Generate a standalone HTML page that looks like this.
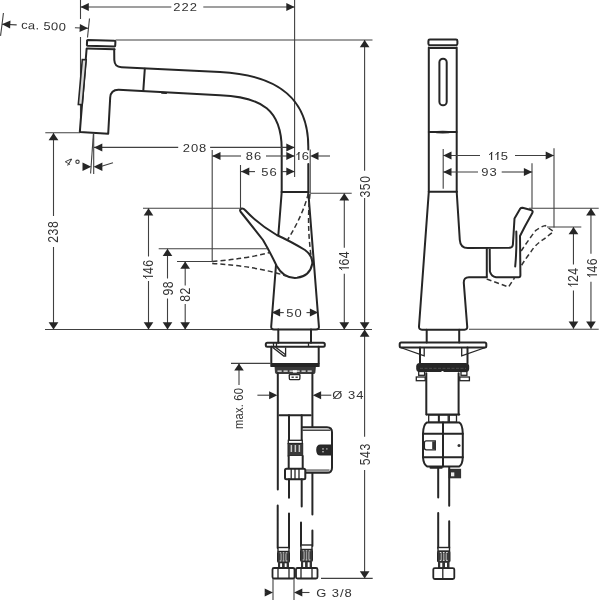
<!DOCTYPE html>
<html><head><meta charset="utf-8"><style>
html,body{margin:0;padding:0;background:#fff;}
svg{display:block;will-change:transform;}
.m{stroke:#262626;stroke-width:2;fill:none;stroke-linejoin:round;stroke-linecap:round;}
.mf{stroke:#262626;stroke-width:2;fill:#fff;stroke-linejoin:round;}
.mf2{stroke:#262626;stroke-width:1.6;fill:#2a2a2a;}
.m1{stroke:#262626;stroke-width:1.3;fill:none;}
.m2{stroke:#262626;stroke-width:1.6;fill:#d8d8d8;}
.d{stroke:#404040;stroke-width:1.1;fill:none;}
.ds{stroke:#333;stroke-width:1.5;fill:none;stroke-dasharray:5 3;}
.dsl{stroke:#333;stroke-width:1.2;fill:none;stroke-dasharray:3 2;}
.a{fill:#262626;}
.fill3{fill:#3a3a3a;stroke:#262626;stroke-width:0.8;}
.t{font-family:"Liberation Sans",sans-serif;fill:#333;letter-spacing:1.4px;}
</style></head><body>
<svg width="600" height="600" viewBox="0 0 600 600">
<rect width="600" height="600" fill="#fff"/>
<line class="d" x1="80.5" y1="0" x2="80.5" y2="19"/>
<line class="d" x1="80.5" y1="37" x2="80.5" y2="132"/>
<line class="d" x1="294.6" y1="0" x2="294.6" y2="177"/>
<line class="d" x1="80.5" y1="7" x2="171.3" y2="7"/>
<line class="d" x1="203.3" y1="7" x2="294.6" y2="7"/>
<polygon class="a" points="80.5,7.0 88.8,3.0 88.8,11.0"/>
<polygon class="a" points="294.6,7.0 286.3,3.0 286.3,11.0"/>
<text class="t" font-size="11.2" style="letter-spacing:0.85px" text-anchor="middle" dominant-baseline="central" transform="translate(185.14,6.90) scale(1.16,1)" x="0.425" y="0">222</text>
<g transform="translate(2,24.2) rotate(2.73)">
<path class="d" d="M0.9,-11.2 Q0.1,0 -0.9,11.8"/>
<line class="d" x1="0" y1="0" x2="14.7" y2="0"/>
<polygon class="a" points="0.0,0.0 8.3,-4.0 8.3,4.0"/>
<line class="d" x1="73" y1="0" x2="86.1" y2="0"/>
<polygon class="a" points="86.1,0.0 77.8,-4.0 77.8,4.0"/>
</g>
<path class="d" d="M89.5,18.5 Q88.5,28 87.5,37.5"/>
<text class="t" font-size="11.2" style="letter-spacing:0.3px" text-anchor="middle" dominant-baseline="central" transform="translate(43.50,26.00) rotate(3) scale(1.16,1)" x="0.15" y="0">ca. 500</text>
<line class="d" x1="115.5" y1="40" x2="372.5" y2="40"/>
<path class="m" d="M87.8,40.1 L114.6,40.8 Q115.4,40.8 115.4,41.6 L115.2,45.8 Q115.2,46.5 114.4,46.5 L87.6,45.8 Q86.9,45.8 86.9,45 L87.1,40.9 Q87.1,40.1 87.8,40.1 Z"/>
<line class="m" x1="86.8" y1="48.5" x2="114.6" y2="49.2"/>
<path class="m" d="M86.6,49 L79.8,132 L108.2,133.8 L110.2,97.5 Q110.8,89.6 118.6,89.7 L220,95.3 C262,97 282,110 281.7,150 L281.7,192"/>
<path class="m" d="M114.2,49.4 L114.3,60 Q114.6,67 121.5,67.3 L220,72 C280,75 308.3,100 308.3,146.7 L308.3,149.5"/>
<path class="m" d="M308.3,164 L308.3,192"/>
<line class="m" x1="144.8" y1="68.8" x2="143.3" y2="90.6"/>
<line class="m" x1="162" y1="92.8" x2="166" y2="93.1"/>
<path class="m2" d="M82.3,59.5 L86.2,59.8 L82.2,104.7 L78.3,104.4 Z"/>
<line class="d" x1="93.7" y1="133.5" x2="93.7" y2="174"/>
<line class="d" x1="93.4" y1="133.5" x2="90.6" y2="173.5"/>
<polygon class="a" points="91.3,166.7 82.5,162.4 82.5,171.0"/>
<polygon class="a" points="93.6,166.7 102.4,162.4 102.4,171.0"/>
<line class="d" x1="101.6" y1="166.2" x2="113" y2="162.8"/>
<text class="t" font-size="11.5" text-anchor="middle" dominant-baseline="central" transform="translate(69.2,161.8) rotate(32)">4</text>
<circle class="d" cx="77.5" cy="161.8" r="1.7" fill="none" stroke-width="1.1"/>
<line class="d" x1="45.3" y1="132.8" x2="80" y2="132.8"/>
<line class="d" x1="53.5" y1="133" x2="53.5" y2="216"/>
<line class="d" x1="53.5" y1="247" x2="53.5" y2="329.5"/>
<polygon class="a" points="53.5,133.0 48.6,140.2 58.4,140.2"/>
<polygon class="a" points="53.5,329.5 48.6,322.3 58.4,322.3"/>
<text class="t" font-size="12.2" style="letter-spacing:0.5px" text-anchor="middle" dominant-baseline="central" transform="translate(53.40,232.00) scale(1.15,1) rotate(-90)" x="0.25" y="0">238</text>
<line class="d" x1="45" y1="329.5" x2="372" y2="329.5"/>
<line class="d" x1="94" y1="147.4" x2="178.2" y2="147.4"/>
<line class="d" x1="210.1" y1="147.4" x2="294.6" y2="147.4"/>
<polygon class="a" points="94.0,147.4 102.3,143.4 102.3,151.4"/>
<polygon class="a" points="294.6,147.4 286.3,143.4 286.3,151.4"/>
<text class="t" font-size="11.2" style="letter-spacing:0.85px" text-anchor="middle" dominant-baseline="central" transform="translate(194.50,148.20) scale(1.16,1)" x="0.425" y="0">208</text>
<line class="d" x1="212.2" y1="150" x2="212.2" y2="261.5"/>
<line class="d" x1="212.2" y1="156" x2="241" y2="156"/>
<line class="d" x1="266" y1="156" x2="294.6" y2="156"/>
<polygon class="a" points="212.2,156.0 220.5,152.0 220.5,160.0"/>
<polygon class="a" points="294.6,156.0 286.3,152.0 286.3,160.0"/>
<text class="t" font-size="11.2" style="letter-spacing:0.85px" text-anchor="middle" dominant-baseline="central" transform="translate(253.50,156.00) scale(1.16,1)" x="0.425" y="0">86</text>
<line class="d" x1="310.2" y1="149.5" x2="310.2" y2="193"/>
<polygon class="a" points="310.2,156.0 318.5,152.0 318.5,160.0"/>
<line class="d" x1="318" y1="156" x2="330" y2="156"/>
<text class="t" font-size="11.2" style="letter-spacing:0.85px" text-anchor="middle" dominant-baseline="central" transform="translate(303.00,156.50) scale(1.16,1)" x="0.425" y="0">I6</text>
<line class="d" x1="240.5" y1="165" x2="240.5" y2="208.3"/>
<line class="d" x1="241" y1="171.6" x2="255" y2="171.6"/>
<line class="d" x1="282" y1="171.6" x2="294.6" y2="171.6"/>
<polygon class="a" points="241.0,171.6 249.3,167.6 249.3,175.6"/>
<polygon class="a" points="294.6,171.6 286.3,167.6 286.3,175.6"/>
<text class="t" font-size="11.2" style="letter-spacing:0.85px" text-anchor="middle" dominant-baseline="central" transform="translate(269.00,172.20) scale(1.16,1)" x="0.425" y="0">56</text>
<line class="m" x1="281.7" y1="192" x2="308.3" y2="192"/>
<path class="m" d="M281.7,192 L271.2,326.5 Q271,329.5 274,329.5 L316,329.5 Q319.2,329.5 318.9,326.5 L308.3,192"/>
<path class="mf" d="M241.5,208.6 Q239,209.8 240.8,212 Q252,226 263,240 Q270,252 276.7,266 Q284,279 297,277.8 Q310,276 312.2,264 Q313.2,256 305,250 Q290,241 276.7,235 Q258,224 245,210 Q243.5,208.3 241.5,208.6 Z"/>
<path class="ds" d="M308.3,193.5 Q303,215 287.5,240"/>
<path class="ds" d="M310,194 Q306.5,225 311.5,259"/>
<path class="ds" d="M212.2,261.5 Q245,259 270,252.5"/>
<path class="ds" d="M212.2,263.5 Q255,266 286,275.8"/>
<line class="d" x1="143" y1="208.3" x2="240.5" y2="208.3"/>
<line class="d" x1="158.7" y1="248.8" x2="267.5" y2="248.8"/>
<line class="d" x1="177" y1="261.5" x2="212.2" y2="261.5"/>
<line class="d" x1="148.5" y1="208.3" x2="148.5" y2="256.5"/>
<line class="d" x1="148.5" y1="281" x2="148.5" y2="329.5"/>
<polygon class="a" points="148.5,208.3 143.7,215.5 153.3,215.5"/>
<polygon class="a" points="148.5,329.5 143.7,322.3 153.3,322.3"/>
<text class="t" font-size="12.2" style="letter-spacing:0.5px" text-anchor="middle" dominant-baseline="central" transform="translate(148.60,269.00) scale(1.15,1) rotate(-90)" x="0.25" y="0">I46</text>
<line class="d" x1="167.5" y1="248.8" x2="167.5" y2="278.5"/>
<line class="d" x1="167.5" y1="298.5" x2="167.5" y2="329.5"/>
<polygon class="a" points="167.5,248.8 162.7,256.0 172.3,256.0"/>
<polygon class="a" points="167.5,329.5 162.7,322.3 172.3,322.3"/>
<text class="t" font-size="12.2" style="letter-spacing:0.5px" text-anchor="middle" dominant-baseline="central" transform="translate(167.80,288.50) scale(1.15,1) rotate(-90)" x="0.25" y="0">98</text>
<line class="d" x1="185.2" y1="261.5" x2="185.2" y2="285.5"/>
<line class="d" x1="185.2" y1="304" x2="185.2" y2="329.5"/>
<polygon class="a" points="185.2,261.5 180.3,268.7 190.0,268.7"/>
<polygon class="a" points="185.2,329.5 180.3,322.3 190.0,322.3"/>
<text class="t" font-size="12.2" style="letter-spacing:0.5px" text-anchor="middle" dominant-baseline="central" transform="translate(185.00,294.80) scale(1.15,1) rotate(-90)" x="0.25" y="0">82</text>
<polygon class="a" points="271.8,312.6 280.1,308.6 280.1,316.6"/>
<line class="d" x1="279.8" y1="312.6" x2="283.8" y2="312.6"/>
<polygon class="a" points="318.2,312.6 309.9,308.6 309.9,316.6"/>
<line class="d" x1="306.5" y1="312.6" x2="310.2" y2="312.6"/>
<text class="t" font-size="11.2" style="letter-spacing:0.85px" text-anchor="middle" dominant-baseline="central" transform="translate(294.00,313.20) scale(1.16,1)" x="0.425" y="0">50</text>
<line class="d" x1="310" y1="193.2" x2="351.7" y2="193.2"/>
<line class="d" x1="344.3" y1="193.2" x2="344.3" y2="247.8"/>
<line class="d" x1="344.3" y1="273.8" x2="344.3" y2="329.5"/>
<polygon class="a" points="344.3,193.2 339.4,200.4 349.2,200.4"/>
<polygon class="a" points="344.3,329.5 339.4,322.3 349.2,322.3"/>
<text class="t" font-size="12.2" style="letter-spacing:0.5px" text-anchor="middle" dominant-baseline="central" transform="translate(344.25,260.50) scale(1.15,1) rotate(-90)" x="0.25" y="0">I64</text>
<line class="d" x1="364.6" y1="40" x2="364.6" y2="170.8"/>
<line class="d" x1="364.6" y1="198" x2="364.6" y2="329.5"/>
<polygon class="a" points="364.6,40.0 359.8,47.2 369.5,47.2"/>
<polygon class="a" points="364.6,329.5 359.8,322.3 369.5,322.3"/>
<text class="t" font-size="12.2" style="letter-spacing:0.5px" text-anchor="middle" dominant-baseline="central" transform="translate(365.00,186.75) scale(1.15,1) rotate(-90)" x="0.25" y="0">350</text>
<line class="d" x1="364.6" y1="329.5" x2="364.6" y2="436.8"/>
<line class="d" x1="364.6" y1="470" x2="364.6" y2="578.4"/>
<polygon class="a" points="364.6,329.5 359.8,336.7 369.5,336.7"/>
<polygon class="a" points="364.6,578.4 359.8,571.2 369.5,571.2"/>
<text class="t" font-size="12.2" style="letter-spacing:0.5px" text-anchor="middle" dominant-baseline="central" transform="translate(365.00,454.50) scale(1.15,1) rotate(-90)" x="0.25" y="0">543</text>
<line class="d" x1="321" y1="578.4" x2="372.7" y2="578.4"/>
<path class="m" d="M278.3,329.5 L278.3,342.7 M311,329.5 L311,342.7"/>
<path class="m" d="M267.3,342.7 L323.3,342.7 Q324.8,342.7 324.8,344.2 L324.8,345.3 Q324.8,346.8 323.3,346.8 L267.3,346.8 Q265.8,346.8 265.8,345.3 L265.8,344.2 Q265.8,342.7 267.3,342.7 Z"/>
<line class="m1" x1="273.5" y1="343" x2="273.5" y2="346.5"/>
<line class="m1" x1="276.5" y1="343" x2="276.5" y2="346.5"/>
<line class="m1" x1="308.5" y1="343" x2="308.5" y2="346.5"/>
<path class="m" d="M271.3,346.8 L271.3,363.3 M318.7,346.8 L318.7,363.3"/>
<path class="m1" d="M272.5,347.3 L283.8,356 L285.6,356 L285.6,347.5"/>
<line class="m1" x1="275.6" y1="347.3" x2="285.3" y2="354.6"/>
<rect x="270.3" y="363.1" width="49.4" height="3.8" rx="0.6" fill="#262626"/>
<path class="fill3" d="M275,366.5 L315.4,366.5 L314.9,372.7 Q314.8,373.5 314,373.5 L276.4,373.5 Q275.6,373.5 275.5,372.7 Z"/>
<line x1="277.5" y1="371.2" x2="313" y2="371.2" stroke="#f4f4f4" stroke-width="1.3" stroke-dasharray="4.2 1.8"/>
<rect x="292.9" y="370.2" width="3.9" height="2.4" fill="#fff"/>
<path class="m1" d="M289.8,374.6 L299.4,374.6 Q300,374.6 300,375.4 L299.8,378.8 Q299.7,379.6 298.9,379.6 L290.3,379.6 Q289.5,379.6 289.4,378.8 L289.2,375.4 Q289.2,374.6 289.8,374.6 Z"/>
<line class="m1" x1="291.5" y1="377.2" x2="293.8" y2="377.2"/>
<line class="m1" x1="295.5" y1="377.2" x2="297.8" y2="377.2"/>
<path class="m" d="M277.8,373.3 L277.8,489.5 M312.4,373.3 L312.4,514.5"/>
<line class="m" x1="279.5" y1="415.3" x2="310.7" y2="415.3" stroke-width="2.4"/>
<line class="d" x1="231" y1="363.4" x2="270" y2="363.4"/>
<line class="d" x1="239" y1="363.4" x2="239" y2="385"/>
<polygon class="a" points="239.0,363.4 234.2,370.6 243.8,370.6"/>
<text class="t" font-size="11.2" style="letter-spacing:0.2px" text-anchor="middle" dominant-baseline="central" transform="translate(239.20,408.50) scale(1.15,1) rotate(-90)" x="0.1" y="0">max. 60</text>
<line class="d" x1="257.4" y1="395.2" x2="269.5" y2="395.2"/>
<polygon class="a" points="277.4,395.2 269.1,391.2 269.1,399.2"/>
<polygon class="a" points="312.8,395.2 321.1,391.2 321.1,399.2"/>
<line class="d" x1="320.5" y1="395.2" x2="331.3" y2="395.2"/>
<text class="t" font-size="11.2" style="letter-spacing:0.85px" text-anchor="middle" dominant-baseline="central" transform="translate(347.90,395.70) scale(1.16,1)" x="0.425" y="0">&#216; 34</text>
<path class="mf" d="M302,427.3 L327,427.3 Q332,427.3 332,432.3 L332,467.7 Q332,472.7 327,472.7 L302,472.7"/>
<line class="m1" x1="302.5" y1="430.2" x2="330.5" y2="430.2"/>
<rect x="303" y="469.2" width="26.5" height="2.6" fill="#8a8a8a"/>
<path class="mf2" d="M320.5,445.3 L330.7,445.3 L330.7,454.7 L320.5,454.7 Q317,454.7 317,450 Q317,445.3 320.5,445.3 Z"/>
<rect x="322" y="448.2" width="2" height="1.4" fill="#999"/><rect x="322" y="451" width="2" height="1.4" fill="#999"/><rect x="326" y="448.2" width="1.6" height="1.4" fill="#999"/>
<path class="m" d="M289,415.3 L289,440 M301.7,415.3 L301.7,440"/>
<rect x="288.3" y="440.3" width="14" height="3.2" fill="#fff" stroke="#262626" stroke-width="1.3"/>
<rect x="288" y="443.5" width="14.7" height="12.5" fill="#3a3a3a" stroke="#262626" stroke-width="1"/>
<rect x="290.6" y="445" width="1.5" height="7" fill="#c8c8c8"/>
<rect x="294.6" y="445" width="1.5" height="7" fill="#c8c8c8"/>
<rect x="298.6" y="445" width="1.5" height="7" fill="#c8c8c8"/>
<rect x="288.7" y="456" width="14" height="12.7" fill="#fff"/>
<path class="m" d="M288.7,456 L288.7,468.7 M302.7,456 L302.7,468.7"/>
<path class="mf" d="M286.5,468.7 L303.8,468.7 Q305.3,468.7 305.3,470.2 L305.3,477.8 Q305.3,479.3 303.8,479.3 L286.5,479.3 Q285,479.3 285,477.8 L285,470.2 Q285,468.7 286.5,468.7 Z"/>
<line class="m1" x1="291.2" y1="469" x2="291.2" y2="479"/>
<line class="m1" x1="295" y1="469" x2="295" y2="479"/>
<line class="m1" x1="299" y1="469" x2="299" y2="479"/>
<path class="m" d="M289,479.3 L289,497.8 M301.7,479.3 L301.7,506.5"/>
<path class="m" d="M277.7,505.5 L277.7,548 M289,513.5 L289,548 M301,522.5 L301,546 M312.4,530.5 L312.4,546"/>
<rect x="278.0" y="547.5" width="11.0" height="4.0" fill="#fff" stroke="#262626" stroke-width="1.4"/>
<rect x="277.5" y="551.5" width="12.0" height="11.0" rx="1" fill="#383838" stroke="#262626" stroke-width="1"/>
<rect x="280.40" y="553.5" width="1.4" height="7.0" fill="#9a9a9a"/>
<rect x="282.80" y="553.5" width="1.4" height="7.0" fill="#9a9a9a"/>
<rect x="285.20" y="553.5" width="1.4" height="7.0" fill="#9a9a9a"/>
<rect x="279.70" y="552.30" width="1.6" height="1" fill="#ddd"/>
<rect x="282.70" y="552.30" width="1.6" height="1" fill="#ddd"/>
<rect x="285.70" y="552.30" width="1.6" height="1" fill="#ddd"/>
<rect x="279.70" y="560.40" width="1.6" height="1" fill="#ddd"/>
<rect x="282.70" y="560.40" width="1.6" height="1" fill="#ddd"/>
<rect x="285.70" y="560.40" width="1.6" height="1" fill="#ddd"/>
<rect x="278.0" y="562.5" width="11.0" height="5.5" fill="#333"/>
<rect x="280.14" y="563.3" width="1.92" height="3.90" fill="#fff"/>
<rect x="284.70" y="563.3" width="1.92" height="3.90" fill="#fff"/>
<rect x="272.5" y="568" width="22.0" height="10.5" rx="1.5" fill="#fff" stroke="#262626" stroke-width="1.8"/>
<line class="m1" x1="278" y1="568.5" x2="278" y2="578.0"/>
<line class="m1" x1="289" y1="568.5" x2="289" y2="578.0"/>
<rect x="301.0" y="545" width="11.0" height="4.5" fill="#fff" stroke="#262626" stroke-width="1.4"/>
<rect x="300.5" y="549.5" width="12.0" height="12.0" rx="1" fill="#383838" stroke="#262626" stroke-width="1"/>
<rect x="303.40" y="551.5" width="1.4" height="8.0" fill="#9a9a9a"/>
<rect x="305.80" y="551.5" width="1.4" height="8.0" fill="#9a9a9a"/>
<rect x="308.20" y="551.5" width="1.4" height="8.0" fill="#9a9a9a"/>
<rect x="302.70" y="550.30" width="1.6" height="1" fill="#ddd"/>
<rect x="305.70" y="550.30" width="1.6" height="1" fill="#ddd"/>
<rect x="308.70" y="550.30" width="1.6" height="1" fill="#ddd"/>
<rect x="302.70" y="559.40" width="1.6" height="1" fill="#ddd"/>
<rect x="305.70" y="559.40" width="1.6" height="1" fill="#ddd"/>
<rect x="308.70" y="559.40" width="1.6" height="1" fill="#ddd"/>
<rect x="301.0" y="561.5" width="11.0" height="6.5" fill="#333"/>
<rect x="303.14" y="562.3" width="1.92" height="4.90" fill="#fff"/>
<rect x="307.70" y="562.3" width="1.92" height="4.90" fill="#fff"/>
<rect x="296" y="568" width="21.5" height="10.5" rx="1.5" fill="#fff" stroke="#262626" stroke-width="1.8"/>
<line class="m1" x1="301" y1="568.5" x2="301" y2="578.0"/>
<line class="m1" x1="312" y1="568.5" x2="312" y2="578.0"/>
<line class="d" x1="273" y1="579" x2="273" y2="600"/>
<line class="d" x1="294" y1="579" x2="294" y2="600"/>
<polygon class="a" points="273.0,592.5 264.7,588.5 264.7,596.5"/>
<polygon class="a" points="294.0,592.5 302.3,588.5 302.3,596.5"/>
<line class="d" x1="265" y1="592.5" x2="266" y2="592.5"/>
<line class="d" x1="302" y1="592.5" x2="309.5" y2="592.5"/>
<text class="t" font-size="11.2" style="letter-spacing:0.85px" text-anchor="middle" dominant-baseline="central" transform="translate(334.00,593.60) scale(1.16,1)" x="0.425" y="0">G 3/8</text>
<path class="m" d="M429.8,39.6 L456,39.6 Q457.4,39.6 457.4,41 L457.4,43.8 Q457.4,45.2 456,45.2 L429.8,45.2 Q428.4,45.2 428.4,43.8 L428.4,41 Q428.4,39.6 429.8,39.6 Z"/>
<line class="m" x1="429.7" y1="48" x2="455.7" y2="48"/>
<path class="m" d="M428.8,47.6 L428.8,191.7 M456.7,47.6 L456.7,191.7"/>
<rect class="m" x="439.4" y="58.7" width="7.3" height="46.6" rx="3.6"/>
<line class="m" x1="428.8" y1="132" x2="456.5" y2="132" stroke-width="2"/>
<path d="M431,132 Q442.7,135.2 454.5,132 Q442.7,129.6 431,132 Z" fill="#262626"/>
<line class="m" x1="428.8" y1="191.8" x2="456.7" y2="191.8"/>
<line class="d" x1="443.2" y1="149" x2="443.2" y2="188.7"/>
<line class="d" x1="443.2" y1="155.5" x2="480" y2="155.5"/>
<line class="d" x1="515" y1="155.5" x2="554" y2="155.5"/>
<polygon class="a" points="443.2,155.5 451.5,151.5 451.5,159.5"/>
<polygon class="a" points="554.0,155.5 545.7,151.5 545.7,159.5"/>
<text class="t" font-size="11.2" style="letter-spacing:0.85px" text-anchor="middle" dominant-baseline="central" transform="translate(498.80,156.40) scale(1.16,1)" x="0.425" y="0">I<tspan dx="1.5">I</tspan>5</text>
<line class="d" x1="443.2" y1="172" x2="478" y2="172"/>
<line class="d" x1="501.7" y1="172" x2="532.2" y2="172"/>
<polygon class="a" points="443.2,172.0 451.5,168.0 451.5,176.0"/>
<polygon class="a" points="532.2,172.0 523.9,168.0 523.9,176.0"/>
<text class="t" font-size="11.2" style="letter-spacing:0.85px" text-anchor="middle" dominant-baseline="central" transform="translate(488.90,172.00) scale(1.16,1)" x="0.425" y="0">93</text>
<line class="d" x1="554" y1="148.3" x2="554" y2="227.5"/>
<line class="d" x1="532" y1="163.3" x2="532" y2="208.2"/>
<path class="m" d="M428.8,191.8 L419,326.5 Q418.8,329.7 422,329.7 L464.5,329.7 Q467.5,329.7 467.2,326.5 L463.8,283 Q463.5,277.2 469,277.2 L486.7,277.2"/>
<path class="m" d="M456.7,191.8 L459.8,240 Q460.4,248.2 468,248.1 L510,247.7 Q512.6,247.6 512.9,244.5 L513.8,230 L514.5,218.5 L520.3,208.6 Q521,207.6 522.5,207.7 L531,210 Q533.4,211 532.3,213 L525,226.2 L520,236 L520.4,275.3 Q520.4,277.2 518.7,277.2 L496,277.2 Q491.4,276.5 489.9,271.5 L489.7,248.4"/>
<line class="m" x1="486.8" y1="248.5" x2="486.8" y2="276.8"/>
<path class="m" d="M516.3,231.5 Q516.8,250 515.2,266.5"/>
<path class="ds" d="M521.2,251 Q527,242 535.5,230.7 Q540,227 545.2,225.6 L553.5,231.5 Q548,236 543,239.7 Q535,245 531,251.7 Q526,258 520.8,266.5"/>
<path class="ds" d="M486.7,279 L508.5,287 L514.5,278"/>
<line class="d" x1="529" y1="208.2" x2="598.7" y2="208.2"/>
<line class="d" x1="547" y1="227" x2="581.3" y2="227"/>
<line class="d" x1="590.95" y1="208.2" x2="590.95" y2="253.7"/>
<line class="d" x1="590.95" y1="281.7" x2="590.95" y2="328.8"/>
<polygon class="a" points="591.0,208.2 586.1,215.4 595.8,215.4"/>
<polygon class="a" points="591.0,328.8 586.1,321.6 595.8,321.6"/>
<text class="t" font-size="12.2" style="letter-spacing:0.5px" text-anchor="middle" dominant-baseline="central" transform="translate(592.34,267.46) scale(1.15,1) rotate(-90)" x="0.25" y="0">I46</text>
<line class="d" x1="573.45" y1="227" x2="573.45" y2="264.6"/>
<line class="d" x1="573.45" y1="290.4" x2="573.45" y2="328.8"/>
<polygon class="a" points="573.5,227.0 568.6,234.2 578.3,234.2"/>
<polygon class="a" points="573.5,328.8 568.6,321.6 578.3,321.6"/>
<text class="t" font-size="12.2" style="letter-spacing:0.5px" text-anchor="middle" dominant-baseline="central" transform="translate(573.40,277.00) scale(1.15,1) rotate(-90)" x="0.25" y="0">I24</text>
<line class="d" x1="469" y1="329.2" x2="598.7" y2="329.2"/>
<path class="m" d="M426.7,329.7 L426.7,342.5 M459.2,329.7 L459.2,342.5"/>
<path class="m" d="M401.2,342.5 L484.8,342.5 Q486.3,342.5 486.3,344 L486.3,346 Q486.3,347.5 484.8,347.5 L401.2,347.5 Q399.7,347.5 399.7,346 L399.7,344 Q399.7,342.5 401.2,342.5 Z"/>
<path class="m1" d="M400.5,347.5 L424.2,355.8 L424.2,347.5 M485.5,347.5 L461.7,355.8 L461.7,347.5"/>
<path class="m" d="M420,347.5 L420,363.3 M467.5,347.5 L467.5,363.3"/>
<rect x="416.2" y="362.9" width="53" height="9" rx="3.5" fill="#262626"/>
<line x1="420" y1="368.3" x2="466" y2="368.3" stroke="#555" stroke-width="0.8" stroke-dasharray="3 1.5"/>
<rect x="427.9" y="372" width="29.8" height="2.2" fill="#fff"/>
<circle cx="442.5" cy="372.4" r="1.3" fill="#fff"/>
<rect class="m1" x="418.7" y="371.5" width="5.9" height="3.8" fill="#fff"/>
<rect class="m1" x="461" y="371.5" width="5.9" height="3.8" fill="#fff"/>
<rect class="m1" x="416.3" y="377" width="8.9" height="3.7" fill="none"/>
<rect class="m1" x="459.8" y="377" width="9.6" height="3.7" fill="none"/>
<path class="m" d="M426.3,373.2 L426.3,414.5 M458.6,373.2 L458.6,414.5"/>
<line class="m" x1="426.7" y1="414.5" x2="459.3" y2="414.5" stroke-width="2.2"/>
<rect class="m1" x="428.7" y="415" width="9.8" height="7.2" fill="none"/>
<rect class="m1" x="439.2" y="415" width="9" height="7.2" fill="none"/>
<rect class="m1" x="449.3" y="415" width="7.2" height="7.2" fill="none"/>
<path class="m" d="M427,422.5 L459.2,422.5 Q462.5,424 462.8,433.8 L462.8,457.3 Q462.5,464.5 459.3,466.4 L427.4,466.6 Q423.4,464.5 423,457.3 L423,433.8 Q423.4,424 427,422.5 Z"/>
<line class="m" x1="423" y1="433.8" x2="462.8" y2="433.8"/>
<line class="m" x1="423" y1="457.3" x2="462.8" y2="457.3"/>
<line class="m" x1="443" y1="422.5" x2="443" y2="466.5" stroke-width="2.5"/>
<path class="m1" d="M426.3,440.8 L435.3,440.8 L435.3,449.8 L426.3,449.8 Q424.4,449.8 424.4,447.8 L424.4,442.8 Q424.4,440.8 426.3,440.8 Z"/>
<rect x="432.2" y="441.4" width="3.3" height="7.8" fill="#333"/>
<circle cx="459" cy="445.6" r="1.5" fill="#333"/>
<rect x="448.6" y="468.8" width="12.5" height="9.5" fill="#333"/>
<rect x="451" y="472.4" width="3.3" height="3.9" fill="#eee"/>
<line class="m" x1="430.5" y1="467.8" x2="441.7" y2="467.8" stroke-width="2"/>
<path class="m" d="M438.2,467 L438.2,497.4 M449.2,467 L449.2,505.7 M438.2,513 L438.2,548 M449.2,521.3 L449.2,548"/>
<rect x="438.0" y="547.5" width="11.5" height="3.7000000000000455" fill="#fff" stroke="#262626" stroke-width="1.4"/>
<rect x="437.5" y="551.2" width="12.5" height="10.799999999999955" rx="1" fill="#383838" stroke="#262626" stroke-width="1"/>
<rect x="440.55" y="553.2" width="1.4" height="6.7999999999999545" fill="#9a9a9a"/>
<rect x="443.05" y="553.2" width="1.4" height="6.7999999999999545" fill="#9a9a9a"/>
<rect x="445.55" y="553.2" width="1.4" height="6.7999999999999545" fill="#9a9a9a"/>
<rect x="439.82" y="552.00" width="1.6" height="1" fill="#ddd"/>
<rect x="442.95" y="552.00" width="1.6" height="1" fill="#ddd"/>
<rect x="446.07" y="552.00" width="1.6" height="1" fill="#ddd"/>
<rect x="439.82" y="559.90" width="1.6" height="1" fill="#ddd"/>
<rect x="442.95" y="559.90" width="1.6" height="1" fill="#ddd"/>
<rect x="446.07" y="559.90" width="1.6" height="1" fill="#ddd"/>
<rect x="438.0" y="562" width="11.5" height="6.100000000000023" fill="#333"/>
<rect x="440.25" y="562.8" width="2.00" height="4.50" fill="#fff"/>
<rect x="445.00" y="562.8" width="2.00" height="4.50" fill="#fff"/>
<rect x="433.3" y="568.1" width="21.0" height="10.899999999999977" rx="1.5" fill="#fff" stroke="#262626" stroke-width="1.8"/>
<line class="m1" x1="442.8" y1="568.6" x2="442.8" y2="578.5"/>
<line x1="299.39" y1="152.73" x2="296.73" y2="154.58" stroke="#333" stroke-width="1" stroke-linecap="round"/>
<line x1="143.87" y1="275.81" x2="146.19" y2="278.31" stroke="#333" stroke-width="1" stroke-linecap="round"/>
<line x1="339.52" y1="267.31" x2="341.84" y2="269.81" stroke="#333" stroke-width="1" stroke-linecap="round"/>
<line x1="492.01" y1="152.63" x2="489.36" y2="154.48" stroke="#333" stroke-width="1" stroke-linecap="round"/>
<line x1="498.36" y1="152.63" x2="495.70" y2="154.48" stroke="#333" stroke-width="1" stroke-linecap="round"/>
<line x1="587.61" y1="274.27" x2="589.93" y2="276.77" stroke="#333" stroke-width="1" stroke-linecap="round"/>
<line x1="568.67" y1="283.81" x2="570.99" y2="286.31" stroke="#333" stroke-width="1" stroke-linecap="round"/>
</svg></body></html>
